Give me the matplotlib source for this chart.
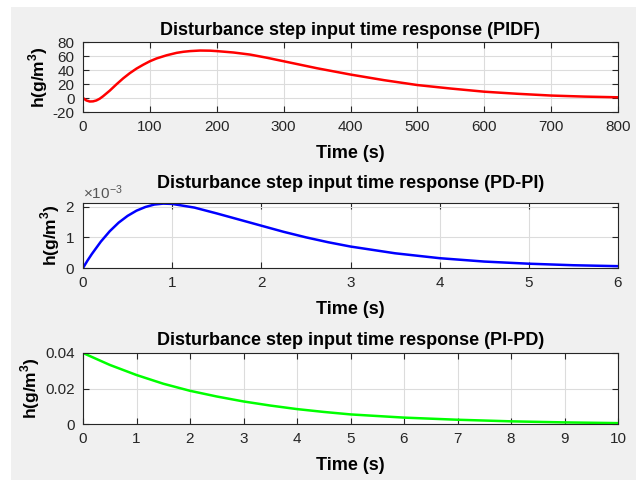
import numpy as np
import matplotlib
matplotlib.use('Agg')
import matplotlib.pyplot as plt
from matplotlib.patches import Rectangle
from matplotlib.ticker import ScalarFormatter

plt.rcParams['font.family'] = ['Liberation Sans', 'DejaVu Sans']
plt.rcParams['mathtext.fontset'] = 'custom'
plt.rcParams['mathtext.rm'] = 'Liberation Sans'
plt.rcParams['mathtext.bf'] = 'Liberation Sans:bold'
plt.rcParams['axes.unicode_minus'] = False

# PIDF response
t_pidf = [0, 5, 10, 15, 20, 25, 30, 40, 50, 60, 70, 80, 90, 100, 110, 125, 140, 150,
          160, 175, 190, 200, 225, 250, 275, 300, 325, 350, 375, 400, 450, 500,
          550, 600, 650, 700, 750, 800]
h_pidf = [0, -3.5, -5, -4.8, -3.5, -1, 2.5, 10.5, 19.5, 28, 35.5, 42, 47.5, 52.5, 56.5,
          61, 64.5, 66, 67, 67.8, 67.6, 67, 65, 62, 57.5, 52.5, 47.5, 42.5, 38, 33.5,
          25.5, 18.5, 13.5, 9, 6, 3.5, 2, 1]

# PD-PI response (x1e-3)
t_pdpi = [0, 0.05, 0.1, 0.2, 0.3, 0.4, 0.5, 0.6, 0.7, 0.8, 0.9, 1.0, 1.25, 1.5, 1.75,
          2.0, 2.25, 2.5, 2.75, 3.0, 3.5, 4.0, 4.5, 5.0, 5.5, 6.0]
h_pdpi = [0, 0.24, 0.46, 0.86, 1.2, 1.48, 1.7, 1.87, 1.99, 2.07, 2.1, 2.09, 1.97, 1.78,
          1.58, 1.38, 1.18, 1.0, 0.84, 0.7, 0.48, 0.32, 0.21, 0.14, 0.09, 0.06]

# PI-PD response
t_pipd = [0, 0.5, 1, 1.5, 2, 2.5, 3, 3.5, 4, 4.5, 5, 6, 7, 8, 9, 10]
h_pipd = [0.04, 0.0333, 0.0276, 0.0227, 0.0187, 0.0155, 0.0127, 0.0104, 0.0084,
          0.0068, 0.0054, 0.0036, 0.0024, 0.0015, 0.0009, 0.0005]

tick_c = '#262626'
fig = plt.figure(figsize=(6.38, 4.82), dpi=100)
fig.patch.set_facecolor('white')
fig.patches.append(Rectangle((11/638, 2/482), 625/638, 473/482, transform=fig.transFigure,
                             facecolor='#f0f0f0', edgecolor='none', zorder=-10))

boxes = [(83, 42, 618, 112), (83, 203, 618, 268), (83, 353, 618, 424)]
axs = []
for (x0, y0, x1, y1) in boxes:
    ax = fig.add_axes([x0/638, 1 - y1/482, (x1-x0)/638, (y1-y0)/482])
    axs.append(ax)

def style(ax, title, tpad=6):
    ax.set_facecolor('white')
    ax.grid(True, color='#dcdcdc', linewidth=0.8)
    ax.set_axisbelow(True)
    ax.tick_params(direction='in', top=True, right=True, length=4, width=0.8,
                   labelsize=11, colors=tick_c, pad=6)
    for s in ax.spines.values():
        s.set_color(tick_c)
        s.set_linewidth(0.8)
    ax.set_title(title, fontsize=13, fontweight='bold', pad=tpad)
    ax.set_xlabel('Time (s)', fontsize=13, fontweight='bold', labelpad=8)
    ax.set_ylabel(r'h(g/m$^{\mathbf{3}}$)', fontsize=12.5, fontweight='bold', labelpad=2)

ax = axs[0]
ax.plot(t_pidf, h_pidf, color='red', linewidth=1.8)
ax.set_xlim(0, 800)
ax.set_ylim(-20, 80)
ax.set_yticks([-20, 0, 20, 40, 60, 80])
ax.set_xticks(np.arange(0, 801, 100))
style(ax, 'Disturbance step input time response (PIDF)', tpad=5)

ax = axs[1]
ax.plot(t_pdpi, np.array(h_pdpi) * 1e-3, color='blue', linewidth=1.8)
ax.set_xlim(0, 6)
ax.set_ylim(0, 2.12e-3)
ax.set_yticks([0, 1e-3, 2e-3])
fmt = ScalarFormatter(useMathText=True)
fmt.set_powerlimits((-2, 2))
ax.yaxis.set_major_formatter(fmt)
style(ax, 'Disturbance step input time response (PD-PI)', tpad=11)
ax.yaxis.get_offset_text().set_fontsize(11)
ax.yaxis.get_offset_text().set_color('#555555')

ax = axs[2]
ax.plot(t_pipd, h_pipd, color='#00ff00', linewidth=1.8)
ax.set_xlim(0, 10)
ax.set_ylim(0, 0.04)
ax.set_yticks([0, 0.02, 0.04])
ax.set_yticklabels(['0', '0.02', '0.04'])
ax.set_xticks(np.arange(0, 11, 1))
style(ax, 'Disturbance step input time response (PI-PD)', tpad=6)

fig.savefig('out.png', dpi=100, facecolor=fig.get_facecolor())
